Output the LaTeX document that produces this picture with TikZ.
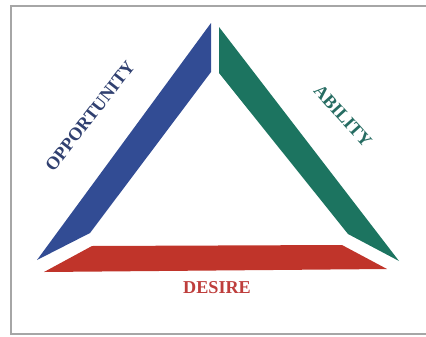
\documentclass[tikz,border=0pt]{standalone}
\usepackage{fontspec}
\setmainfont{Liberation Serif}
\definecolor{barblue}{RGB}{50,76,148}
\definecolor{bargreen}{RGB}{28,116,96}
\definecolor{barred}{RGB}{192,52,42}
\definecolor{txtblue}{RGB}{48,64,112}
\definecolor{txtgreen}{RGB}{38,108,98}
\definecolor{txtred}{RGB}{190,62,60}

\begin{document}
\begin{tikzpicture}[x=0.03cm, y=-0.03cm, every node/.style={font=\bfseries\fontsize{15.5}{18}\selectfont, inner sep=0pt}]
  \useasboundingbox (0,0) rectangle (426,336);
  % Marco (abierto a la derecha)
  \draw[gray!70, line width=1.6pt] (430,6) -- (11,6) -- (11,334) -- (430,334);
  % Barra izquierda (azul)
  \fill[barblue] (37,260) -- (211,23) -- (211,72) -- (90,233) -- cycle;
  % Barra derecha (verde)
  \fill[bargreen] (219,27) -- (399,261) -- (348,234) -- (219,73) -- cycle;
  % Barra inferior (roja)
  \fill[barred] (44,272) -- (92,246) -- (342,245) -- (387,269) -- cycle;
  % Etiquetas
  \node[txtblue, rotate=52] (opportunity) at (90,116) {OPPORTUNITY};
  \node[txtgreen, rotate=-48] (ability) at (343,116) {ABILITY};
  \node[txtred] (desire) at (217,288) {DESIRE};
\end{tikzpicture}
\end{document}
